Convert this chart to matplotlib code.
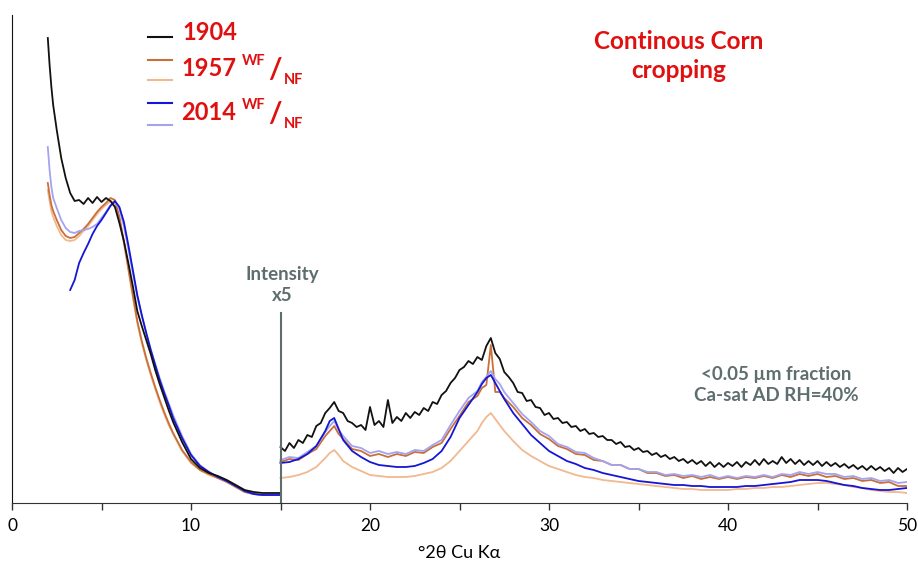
import numpy as np
import matplotlib
matplotlib.use("Agg")
import matplotlib.pyplot as plt
from matplotlib.lines import Line2D

# ---------------- data (intensity in arbitrary units) ----------------
# low-angle segment, 2-15 deg 2theta
low_x = [2.0, 2.1, 2.2, 2.3, 2.5, 2.75, 3.0, 3.25, 3.5, 3.75, 4.0, 4.25, 4.5, 4.75,
         5.0, 5.25, 5.5, 5.75, 6.0, 6.25, 6.5, 6.75, 7.0, 7.25, 7.5, 7.75, 8.0, 8.25,
         8.5, 8.75, 9.0, 9.5, 10.0, 10.5, 11.0, 11.5, 12.0, 12.5, 13.0, 13.5, 14.0, 14.5, 15.0]
low_1904 = [465, 438, 416, 398, 373, 345, 325, 310, 302, 303, 299, 305, 300, 306,
            301, 305, 302, 296, 280, 262, 240, 217, 192, 177, 163, 149, 133, 119,
            106, 93, 81, 61, 44, 35, 30, 27, 23, 18, 13, 11, 10, 10, 10]
low_1957_wf = [320, 308, 298, 292, 283, 273, 267, 265, 266, 270, 274, 279, 285, 291,
               296, 300, 305, 303, 286, 262, 235, 208, 182, 162, 145, 130, 116, 103,
               91, 80, 70, 53, 41, 33, 29, 25, 21, 16, 11, 9, 8, 8, 8]
low_1957_nf = [313, 302, 292, 286, 277, 268, 263, 262, 263, 267, 272, 277, 283, 289,
               294, 298, 302, 300, 284, 260, 233, 206, 180, 160, 143, 128, 114, 101,
               89, 78, 69, 52, 40, 33, 28, 25, 21, 16, 11, 9, 8, 8, 8]
low_2014_wf = [np.nan, np.nan, np.nan, np.nan, np.nan, np.nan, np.nan, 213, 223, 240, 250, 259, 269, 277,
               283, 290, 297, 302, 296, 281, 258, 233, 208, 188, 170, 153, 138, 123,
               110, 98, 85, 65, 48, 37, 31, 26, 22, 17, 12, 9, 8, 8, 8]
low_2014_nf = [356, 333, 316, 305, 295, 283, 275, 271, 270, 272, 273, 274, 276, 279,
               285, 291, 298, 301, 294, 277, 254, 230, 206, 187, 170, 154, 139, 125,
               112, 100, 88, 67, 49, 38, 31, 26, 22, 17, 12, 9, 8, 8, 8]

# high-angle segment, 15-50 deg 2theta (intensity x5)
# 1904 read every 0.25 deg from 15 to 50
high_x_1904 = list(np.arange(15.0, 50.01, 0.25))
high_1904 = [56, 52, 60, 55, 63, 60, 68, 66,
             77, 80, 90, 95, 101, 92, 90, 82,
             80, 76, 78, 73, 96, 78, 82, 76,
             103, 80, 86, 82, 90, 85, 91, 88,
             95, 92, 101, 99, 108, 112, 120, 125,
             133, 136, 142, 139, 146, 143, 157, 165,
             150, 144, 131, 126, 120, 111, 110, 102,
             103, 96, 95, 88, 90, 84, 85, 80,
             81, 76, 77, 72, 74, 69, 70, 66,
             67, 63, 63, 59, 61, 56, 57, 53,
             55, 51, 52, 48, 50, 46, 48, 44,
             46, 42, 44, 40, 43, 39, 42, 37,
             41, 36, 40, 36, 40, 37, 41, 36,
             41, 38, 43, 38, 44, 39, 42, 39,
             46, 40, 44, 39, 43, 38, 42, 38,
             42, 37, 41, 37, 40, 36, 39, 35,
             38, 34, 37, 33, 37, 33, 36, 32,
             35, 30, 35, 31, 34]

high_x = [15, 15.5, 16, 16.5, 17, 17.5, 17.75, 18, 18.25, 18.5, 19, 19.5, 20, 20.5, 21, 21.5,
          22, 22.5, 23, 23.5, 24, 24.5, 25, 25.5, 26, 26.25, 26.5, 26.75, 27, 27.25, 27.5,
          28, 28.5, 29, 29.5, 30, 30.5, 31, 31.5, 32, 32.5, 33, 33.5, 34, 34.5, 35, 35.5,
          36, 36.5, 37, 37.5, 38, 38.5, 39, 39.5, 40, 40.5, 41, 41.5, 42, 42.5, 43, 43.5,
          44, 44.5, 45, 45.5, 46, 46.5, 47, 47.5, 48, 48.5, 49, 49.5, 50]
high_1957_wf = [41, 44, 43, 49, 54, 67, 72, 77, 69, 64, 54, 52, 47, 49, 46, 49,
                47, 51, 50, 56, 60, 74, 87, 101, 107, 115, 118, 158, 111, 111, 105,
                96, 85, 78, 69, 64, 57, 54, 49, 48, 43, 42, 38, 38, 34, 34, 30,
                30, 27, 28, 25, 27, 24, 26, 24, 26, 24, 26, 25, 27, 25, 28, 26,
                29, 27, 29, 26, 27, 24, 25, 22, 23, 20, 21, 17, 17]
high_1957_nf = [25, 26, 28, 31, 36, 45, 50, 53, 48, 42, 36, 32, 28, 27, 26, 26,
                26, 27, 29, 31, 35, 42, 52, 62, 72, 80, 86, 90, 84, 78, 72,
                62, 53, 47, 42, 37, 34, 31, 28, 26, 25, 23, 22, 21, 20, 19, 18,
                17, 16, 15, 14, 14, 13, 13, 13, 13, 14, 14, 15, 15, 16, 16, 17,
                18, 19, 20, 20, 19, 18, 16, 15, 13, 12, 11, 11, 10]
high_2014_wf = [40, 41, 44, 49, 57, 72, 82, 85, 74, 63, 52, 46, 41, 38, 37, 36,
                36, 37, 40, 44, 52, 66, 85, 98, 111, 119, 125, 128, 120, 112, 104,
                90, 79, 68, 60, 52, 47, 42, 39, 35, 33, 30, 28, 26, 24, 22, 21,
                20, 19, 18, 18, 17, 17, 16, 16, 16, 16, 17, 17, 18, 19, 20, 21,
                23, 23, 23, 22, 20, 18, 17, 15, 14, 13, 13, 14, 15]
high_2014_nf = [43, 46, 45, 51, 57, 71, 77, 82, 73, 67, 57, 55, 50, 52, 49, 51,
                49, 53, 52, 58, 63, 78, 92, 105, 112, 121, 126, 132, 124, 119, 111,
                100, 89, 81, 72, 67, 59, 56, 51, 50, 45, 42, 38, 38, 34, 34, 31,
                31, 28, 29, 27, 28, 26, 28, 25, 27, 25, 27, 26, 28, 26, 29, 28,
                31, 29, 31, 29, 29, 26, 27, 24, 25, 22, 23, 20, 21]

series_labels = ["1904", "1957", "2014"]
x_ticks = [0, 10, 20, 30, 40, 50]

# ---------------- styling ----------------
W, H = 918, 566
C_1904 = "#111111"
C_57WF = "#c8703a"
C_57NF = "#f2b88e"
C_14WF = "#1515d5"
C_14NF = "#a3a3f2"
RED = "#e01010"
GRAY = "#5e6e6e"
FONT = "Lato"

fig = plt.figure(figsize=(W / 100, H / 100), dpi=100)
ax = fig.add_axes([12 / W, 63 / H, 895 / W, 488 / H])

series = [
    (low_1957_nf, high_x, high_1957_nf, C_57NF),
    (low_1957_wf, high_x, high_1957_wf, C_57WF),
    (low_2014_nf, high_x, high_2014_nf, C_14NF),
    (low_2014_wf, high_x, high_2014_wf, C_14WF),
    (low_1904, high_x_1904, high_1904, C_1904),
]
for lo, hx, hi, c in series:
    ax.plot(low_x, lo, color=c, lw=1.3)
    ax.plot(hx, hi, color=c, lw=1.3)

ax.set_xlim(0, 50)
ax.set_ylim(0, 488)
ax.set_xticks(x_ticks)
ax.set_xticks([5, 15, 25, 35, 45], minor=True)
ax.tick_params(axis="x", which="both", direction="out", length=5, width=1,
               color="#333333", labelsize=12.5, pad=6)
ax.tick_params(axis="y", left=False, labelleft=False)
for lab in ax.get_xticklabels():
    lab.set_fontfamily(FONT)
ax.spines["top"].set_visible(False)
ax.spines["right"].set_visible(False)
ax.spines["bottom"].set_color("#333333")
ax.spines["left"].set_color("#111111")
ax.set_xlabel("°2θ Cu Kα", fontsize=13, fontfamily=FONT, labelpad=8)

# intensity x5 marker
ax.plot([15, 15], [0, 190], color=GRAY, lw=1.5)
ax.text(15.1, 218, "Intensity\nx5", ha="center", va="center", color=GRAY,
        fontsize=13.5, fontweight="bold", fontfamily=FONT, linespacing=1.35)

# annotations (figure pixel coords)
def fx(px):
    return px / W

def fy(py):
    return 1 - py / H

fig.text(fx(679), fy(56), "Continous Corn\ncropping", ha="center", va="center",
         color=RED, fontsize=17.5, fontweight="bold", fontfamily=FONT, linespacing=1.3)
fig.text(fx(776), fy(385), "<0.05 µm fraction\nCa-sat AD RH=40%", ha="center", va="center",
         color=GRAY, fontsize=13.5, fontweight="bold", fontfamily=FONT, linespacing=1.35)

# manual legend
for py, c in [(37, C_1904), (60, C_57WF), (80, C_57NF), (103, C_14WF), (125, C_14NF)]:
    fig.add_artist(Line2D([fx(148), fx(172)], [fy(py), fy(py)], color=c, lw=1.5))

fig.text(fx(182), fy(33), series_labels[0], ha="left", va="center", color=RED,
         fontsize=17, fontweight="bold", fontfamily=FONT)
for lab, yc in [(series_labels[1], 69), (series_labels[2], 113)]:
    fig.text(fx(181), fy(yc), lab, ha="left", va="center", color=RED,
             fontsize=17, fontweight="bold", fontfamily=FONT)
    fig.text(fx(242), fy(yc - 8), "WF", ha="left", va="center", color=RED,
             fontsize=10.5, fontweight="bold", fontfamily=FONT)
    fig.text(fx(268), fy(yc + 1), "/", ha="left", va="center", color=RED,
             fontsize=21, fontweight="bold", fontfamily=FONT)
    fig.text(fx(284), fy(yc + 11), "NF", ha="left", va="center", color=RED,
             fontsize=10.5, fontweight="bold", fontfamily=FONT)

fig.savefig("out.png", dpi=100)
